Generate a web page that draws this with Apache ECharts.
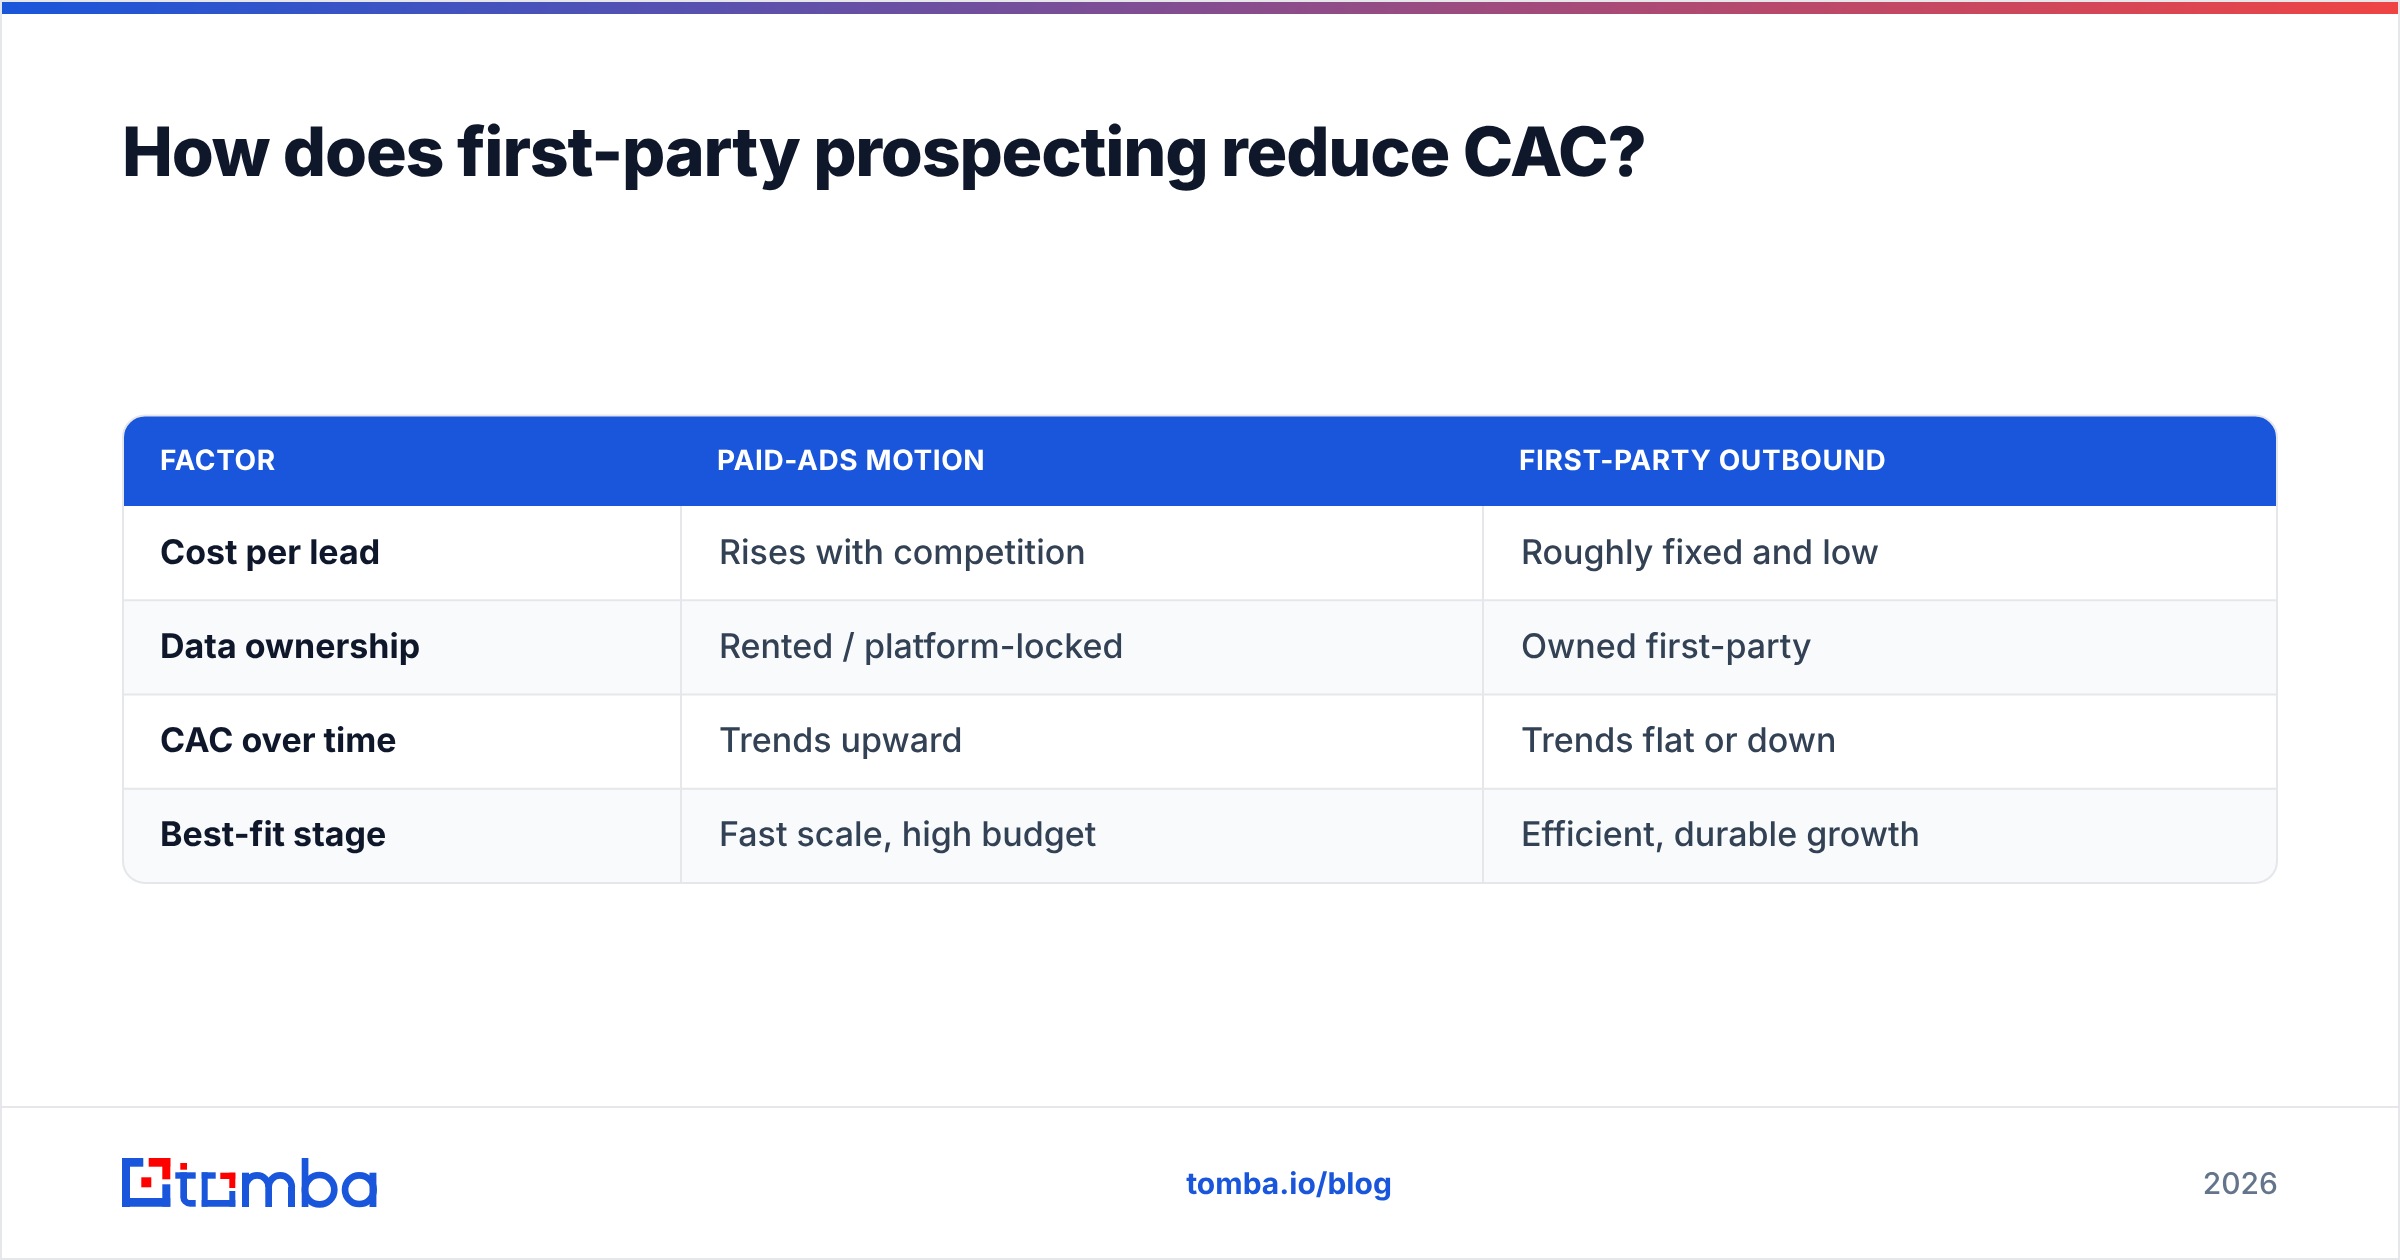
<!DOCTYPE html>
<html>
<head>
<meta charset="utf-8">
<title>How does first-party prospecting reduce CAC?</title>
<script src="https://cdn.jsdelivr.net/npm/echarts@6/dist/echarts.min.js"></script>
<style>
  html, body { margin: 0; padding: 0; background: #fff; }
  #chart { width: 2400px; height: 1260px; }
</style>
</head>
<body>
<div id="chart"></div>
<script>
const titleText = "How does first-party prospecting reduce CAC?";
const columns = ["FACTOR", "PAID-ADS MOTION", "FIRST-PARTY OUTBOUND"];
const factors = ["Cost per lead", "Data ownership", "CAC over time", "Best-fit stage"];
const paidAds = ["Rises with competition", "Rented / platform-locked", "Trends upward", "Fast scale, high budget"];
const firstParty = ["Roughly fixed and low", "Owned first-party", "Trends flat or down", "Efficient, durable growth"];
const footerLink = "tomba.io/blog";
const footerYear = "2026";

const FONT = "Inter, 'Noto Sans', sans-serif";
const BLUE = "#1a56db";
const RED = "#ff0000";
const LINE = "#e5e7eb";

const tableLeft = 123;
const tableRight = 2277;
const tableTop = 415.5;
const headerBottom = 506;
const rowHeight = 94.25;
const colX = [123, 681, 1483, 2277];
const headerTextX = [160, 717, 1519];
const cellTextX = [160, 719, 1521];

// zrender has no letter spacing, so it is set on the context per string
const tracking = new Map();
tracking.set(titleText, "-1.22px");
columns.forEach((c) => tracking.set(c, "0.6px"));
const nativeFillText = CanvasRenderingContext2D.prototype.fillText;
CanvasRenderingContext2D.prototype.fillText = function (value, x, y) {
  this.textRendering = "geometricPrecision";
  this.letterSpacing = tracking.get(value) || "0px";
  nativeFillText.call(this, value, x, y);
  this.letterSpacing = "0px";
};

function text(x, y, value, size, weight, fill, align) {
  return {
    type: "text",
    z: 10,
    style: {
      x, y, text: value, fontFamily: FONT, fontSize: size, fontWeight: weight, fill,
      align: align || "left", verticalAlign: "middle"
    }
  };
}

function rect(x, y, w, h, fill, r, z) {
  return {
    type: "rect",
    z: z || 1,
    shape: { x, y, width: w, height: h, r: r || 0 },
    style: { fill }
  };
}

function buildTable() {
  const bottom = headerBottom + rowHeight * factors.length;
  const items = [];
  items.push(rect(tableLeft, tableTop, tableRight - tableLeft, headerBottom - tableTop, BLUE, [22, 22, 0, 0], 3));
  factors.forEach((name, i) => {
    const top = headerBottom + rowHeight * i;
    const isLast = i === factors.length - 1;
    const fill = i % 2 ? "#f8fafc" : "#ffffff";
    items.push(rect(tableLeft, top, tableRight - tableLeft, rowHeight, fill, isLast ? [0, 0, 22, 22] : 0, 2));
    if (i > 0) {
      items.push({ type: "line", z: 4, shape: { x1: tableLeft, y1: top, x2: tableRight, y2: top }, style: { stroke: LINE, lineWidth: 2 } });
    }
    const midY = top + rowHeight / 2 + 0.3;
    items.push(text(cellTextX[0], midY, name, 34, 700, "#0f172a"));
    items.push(text(cellTextX[1], midY, paidAds[i], 34, 500, "#334155"));
    items.push(text(cellTextX[2], midY, firstParty[i], 34, 500, "#334155"));
  });
  colX.slice(1, 3).forEach((x) => {
    items.push({ type: "line", z: 4, shape: { x1: x, y1: headerBottom, x2: x, y2: bottom }, style: { stroke: LINE, lineWidth: 2 } });
  });
  items.push({
    type: "rect", z: 5,
    shape: { x: tableLeft, y: tableTop, width: tableRight - tableLeft, height: bottom - tableTop, r: 22 },
    style: { fill: "none", stroke: LINE, lineWidth: 2 }
  });
  columns.forEach((name, i) => {
    items.push(text(headerTextX[i], (tableTop + headerBottom) / 2 + 1, name, 28, 700, "#ffffff"));
  });
  return items;
}

// logo shapes, pixel positions on the page
function buildLogo() {
  const blue = [
    [122, 1158, 21.3, 8.7], [122, 1158, 8, 49], [122, 1198, 48.3, 8.7], [162.3, 1184.3, 8, 22.4],
    // t
    [175.3, 1172.3, 20.4, 6.4], [180.3, 1172.3, 6.7, 25], [190, 1200, 5.7, 6.7],
    // o
    [201.7, 1172.3, 14, 6.4], [201.7, 1172.3, 6, 34.4], [201.7, 1200, 33.6, 6.7], [229.3, 1191, 6, 15.7],
    // m
    [242, 1172.7, 7, 34.3], [265.3, 1187, 6.7, 20], [288, 1187, 7, 20],
    // b
    [301.7, 1158, 6.7, 49],
    // a
    [369.5, 1172.7, 6.9, 34.3]
  ];
  const red = [
    [148.7, 1158, 21.6, 8.7], [162.3, 1158, 8, 21.3], [141.3, 1177.3, 10, 10],
    [180.3, 1163, 6.7, 6.7], [220.3, 1172.7, 15, 6.3], [229.3, 1172.7, 6, 15.3]
  ];
  const arcs = [
    [190.1, 1196.9, 6.5, Math.PI / 2, Math.PI],
    [257.1, 1187, 11.6, Math.PI, Math.PI * 2],
    [280.2, 1187, 11.6, Math.PI, Math.PI * 2]
  ];
  const rings = [[319.6, 1189.7, 14.7], [359.35, 1189.7, 14.3]];
  const items = [];
  blue.forEach((r) => items.push(rect(r[0], r[1], r[2], r[3], BLUE)));
  red.forEach((r) => items.push(rect(r[0], r[1], r[2], r[3], RED)));
  arcs.forEach((a) => items.push({
    type: "arc", z: 2,
    shape: { cx: a[0], cy: a[1], r: a[2], startAngle: a[3], endAngle: a[4], clockwise: true },
    style: { fill: null, stroke: BLUE, lineWidth: 6.7 }
  }));
  rings.forEach((c) => items.push({
    type: "circle", z: 2,
    shape: { cx: c[0], cy: c[1], r: c[2] },
    style: { fill: "none", stroke: BLUE, lineWidth: 6.7 }
  }));
  return items;
}

const chart = echarts.init(document.getElementById("chart"), null, { renderer: "canvas" });
chart.setOption({
  animation: false,
  backgroundColor: "#ffffff",
  graphic: {
    elements: [
      {
        type: "rect", z: 21,
        shape: { x: 2, y: 2, width: 2396, height: 12 },
        style: {
          fill: new echarts.graphic.LinearGradient(0, 0, 1, 0, [
            { offset: 0, color: BLUE },
            { offset: 1, color: "#ef4444" }
          ])
        }
      },
      {
        type: "rect", z: 22,
        shape: { x: 1, y: 1, width: 2398, height: 1258 },
        style: { fill: "none", stroke: LINE, lineWidth: 2 }
      },
      text(122, 155.5, titleText, 68, 800, "#0f172a"),
      ...buildTable(),
      { type: "line", z: 4, shape: { x1: 0, y1: 1107, x2: 2400, y2: 1107 }, style: { stroke: LINE, lineWidth: 2 } },
      ...buildLogo(),
      text(1289, 1185, footerLink, 30, 700, BLUE, "center"),
      text(2278, 1185, footerYear, 30, 500, "#64748b", "right")
    ]
  }
});
</script>
</body>
</html>
